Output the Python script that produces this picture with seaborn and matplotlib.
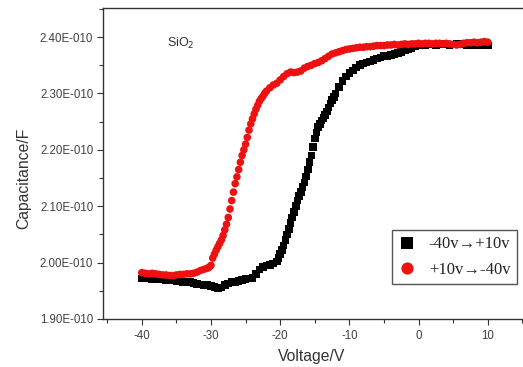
import numpy as np
import pandas as pd
import matplotlib
matplotlib.use("Agg")
import matplotlib.pyplot as plt
import seaborn as sns
from matplotlib.ticker import FuncFormatter, MultipleLocator

# ---- sweep -40 V -> +10 V (voltage in V, capacitance in 1e-10 F) ----
voltage_up = [-40.0, -39.5, -39.0, -38.5, -38.0, -37.5, -37.0, -36.5, -36.0, -35.5,
              -35.0, -34.5, -34.0, -33.5, -33.0, -32.5, -32.0, -31.5, -31.0, -30.5,
              -30.0, -29.5, -29.0, -28.5, -28.0, -27.5, -27.0, -26.5, -26.0, -25.5,
              -25.0, -24.5, -24.0, -23.5, -23.0, -22.5, -22.0, -21.5, -21.0,
              -20.5, -20.25, -20.0, -19.75, -19.5, -19.25, -19.0, -18.75, -18.5, -18.25,
              -18.0, -17.75, -17.5, -17.25, -17.0, -16.75, -16.5, -16.25, -16.0, -15.75,
              -15.5, -15.25, -15.0, -14.75, -14.5, -14.25, -14.0, -13.75, -13.5, -13.25,
              -13.0, -12.75, -12.5, -12.25, -12.0,
              -11.5, -11.0, -10.5, -10.0, -9.5, -9.0, -8.5, -8.0, -7.5, -7.0,
              -6.5, -6.0, -5.5, -5.0, -4.5, -4.0, -3.5, -3.0, -2.5, -2.0,
              -1.5, -1.0, -0.5, 0.0, 0.5, 1.0, 1.5, 2.0, 2.5, 3.0,
              3.5, 4.0, 4.5, 5.0, 5.5, 6.0, 6.5, 7.0, 7.5, 8.0, 8.5, 9.0, 9.5, 10.0]
cap_up = [1.972, 1.973, 1.972, 1.971, 1.972, 1.971, 1.970, 1.969, 1.968, 1.968,
          1.967, 1.968, 1.966, 1.966, 1.965, 1.964, 1.962, 1.961, 1.960, 1.960,
          1.958, 1.957, 1.955, 1.956, 1.960, 1.963, 1.965, 1.966, 1.967, 1.969,
          1.971, 1.972, 1.973, 1.980, 1.988, 1.992, 1.995, 1.996, 1.998,
          2.002, 2.008, 2.015, 2.022, 2.030, 2.040, 2.050, 2.060, 2.070, 2.080,
          2.090, 2.100, 2.110, 2.118, 2.125, 2.134, 2.142, 2.153, 2.165, 2.178,
          2.190, 2.205, 2.220, 2.231, 2.240, 2.246, 2.252, 2.257, 2.262, 2.268,
          2.275, 2.282, 2.288, 2.294, 2.300,
          2.312, 2.322, 2.330, 2.336, 2.341, 2.346, 2.350, 2.353, 2.355, 2.357,
          2.359, 2.362, 2.364, 2.366, 2.367, 2.368, 2.370, 2.372, 2.374, 2.376,
          2.378, 2.381, 2.383, 2.385, 2.386, 2.386, 2.387, 2.387, 2.386, 2.387,
          2.388, 2.387, 2.386, 2.387, 2.388, 2.388, 2.387, 2.386, 2.385, 2.386,
          2.386, 2.385, 2.386, 2.385]

# ---- sweep +10 V -> -40 V (voltage in V, capacitance in 1e-10 F) ----
voltage_down = [-40.0, -39.5, -39.0, -38.5, -38.0, -37.5, -37.0, -36.5, -36.0, -35.5,
                -35.0, -34.5, -34.0, -33.5, -33.0, -32.5, -32.0, -31.5, -31.0,
                -30.5, -30.25, -30.0, -29.75, -29.5, -29.25, -29.0, -28.75, -28.5, -28.25,
                -28.0, -27.75, -27.5, -27.25, -27.0, -26.75, -26.5, -26.25, -26.0, -25.75,
                -25.5, -25.25, -25.0, -24.75, -24.5, -24.25, -24.0, -23.75, -23.5, -23.25,
                -23.0, -22.75, -22.5, -22.25, -22.0,
                -21.5, -21.0, -20.5, -20.0, -19.5, -19.0, -18.5, -18.0, -17.5, -17.0,
                -16.5, -16.0, -15.5, -15.0, -14.5, -14.0, -13.5, -13.0, -12.5, -12.0,
                -11.5, -11.0, -10.5, -10.0, -9.5, -9.0, -8.5, -8.0, -7.5, -7.0,
                -6.5, -6.0, -5.5, -5.0, -4.5, -4.0, -3.5, -3.0, -2.5, -2.0,
                -1.5, -1.0, -0.5, 0.0, 0.5, 1.0, 1.5, 2.0, 2.5, 3.0,
                3.5, 4.0, 4.5, 5.0, 5.5, 6.0, 6.5, 7.0, 7.5, 8.0, 8.5, 9.0, 9.5, 10.0]
cap_down = [1.982, 1.981, 1.980, 1.981, 1.980, 1.979, 1.978, 1.978, 1.977, 1.977,
            1.978, 1.979, 1.979, 1.980, 1.980, 1.981, 1.983, 1.986, 1.988,
            1.990, 1.992, 1.995, 2.008, 2.015, 2.022, 2.028, 2.034, 2.040, 2.048,
            2.058, 2.068, 2.080, 2.095, 2.110, 2.125, 2.140, 2.152, 2.165, 2.178,
            2.190, 2.200, 2.210, 2.222, 2.235, 2.246, 2.255, 2.264, 2.272, 2.279,
            2.286, 2.291, 2.295, 2.300, 2.304,
            2.310, 2.315, 2.318, 2.324, 2.330, 2.335, 2.338, 2.337, 2.338, 2.340,
            2.345, 2.348, 2.350, 2.353, 2.355, 2.358, 2.362, 2.366, 2.370, 2.372,
            2.374, 2.376, 2.378, 2.379, 2.380, 2.381, 2.382, 2.382, 2.383, 2.383,
            2.384, 2.385, 2.385, 2.385, 2.386, 2.386, 2.387, 2.386, 2.387, 2.388,
            2.387, 2.388, 2.388, 2.389, 2.388, 2.389, 2.389, 2.388, 2.389, 2.389,
            2.388, 2.389, 2.388, 2.387, 2.386, 2.387, 2.389, 2.390, 2.390, 2.391,
            2.390, 2.391, 2.392, 2.391]

labels = ["-40v\u2192+10v", "+10v\u2192-40v"]
x_ticks = [-40, -30, -20, -10, 0, 10]
y_ticks = [1.90e-10, 2.00e-10, 2.10e-10, 2.20e-10, 2.30e-10, 2.40e-10]

df = pd.concat([
    pd.DataFrame({"V": voltage_up, "C": np.array(cap_up) * 1e-10, "sweep": labels[0]}),
    pd.DataFrame({"V": voltage_down, "C": np.array(cap_down) * 1e-10, "sweep": labels[1]}),
], ignore_index=True)

sns.set_theme(style="white")
plt.rcParams["font.family"] = ["Liberation Sans", "DejaVu Sans"]

fig = plt.figure(figsize=(5.23, 3.67), dpi=100)
ax = fig.add_axes([0.197, 0.131, 1.01 - 0.197, 0.978 - 0.131])

sns.scatterplot(data=df, x="V", y="C", hue="sweep", style="sweep",
                palette={labels[0]: "#000000", labels[1]: "#ee1111"},
                markers={labels[0]: "s", labels[1]: "o"},
                s=30, linewidth=0, ax=ax, legend=True)

ax.set_xlim(-45.6, 15.85)
ax.set_ylim(1.90e-10, 2.4515e-10)
ax.set_xticks(x_ticks)
ax.set_yticks(y_ticks)
ax.xaxis.set_minor_locator(MultipleLocator(5))
ax.yaxis.set_minor_locator(MultipleLocator(0.05e-10))
ax.yaxis.set_major_formatter(FuncFormatter(lambda v, p: f"{v*1e10:.2f}E-010"))
ax.xaxis.set_major_formatter(FuncFormatter(lambda v, p: f"{v:.0f}"))

for side in ["left", "bottom", "top"]:
    ax.spines[side].set_visible(True)
    ax.spines[side].set_color("#333333")
    ax.spines[side].set_linewidth(1.0)
ax.spines["right"].set_visible(False)

ax.tick_params(axis="both", which="major", direction="out", length=4, width=0.8,
               color="#333333", labelsize=8.3, labelcolor="#404040", pad=3,
               bottom=True, left=True)
ax.tick_params(axis="both", which="minor", direction="out", length=3, width=0.8,
               color="#333333", bottom=True, left=True)
ax.tick_params(axis="x", which="major", pad=4)

ax.set_xlabel("Voltage/V", fontsize=11.3, color="#333333")
ax.set_ylabel("Capacitance/F", fontsize=11.3, color="#333333")
ax.xaxis.set_label_coords(0.49, -0.097)
ax.yaxis.set_label_coords(-0.169, 0.453)

ax.text(-36.3, 2.388e-10, "SiO$_2$", fontsize=9, color="#333333", va="center", ha="left")

handles, lbls = ax.get_legend_handles_labels()
leg = ax.legend(handles, lbls, loc="upper left", bbox_to_anchor=(0.68, 0.287),
                borderaxespad=0,
                frameon=True, fancybox=False, edgecolor="#555555", framealpha=1,
                prop={"family": "Liberation Serif", "size": 12}, markerscale=1.6,
                handletextpad=0.8, borderpad=0.4, labelspacing=0.55, handlelength=1.0)
leg.get_frame().set_linewidth(1.0)
for t in leg.get_texts():
    t.set_color("#222222")

fig.savefig("out.png", dpi=100)
